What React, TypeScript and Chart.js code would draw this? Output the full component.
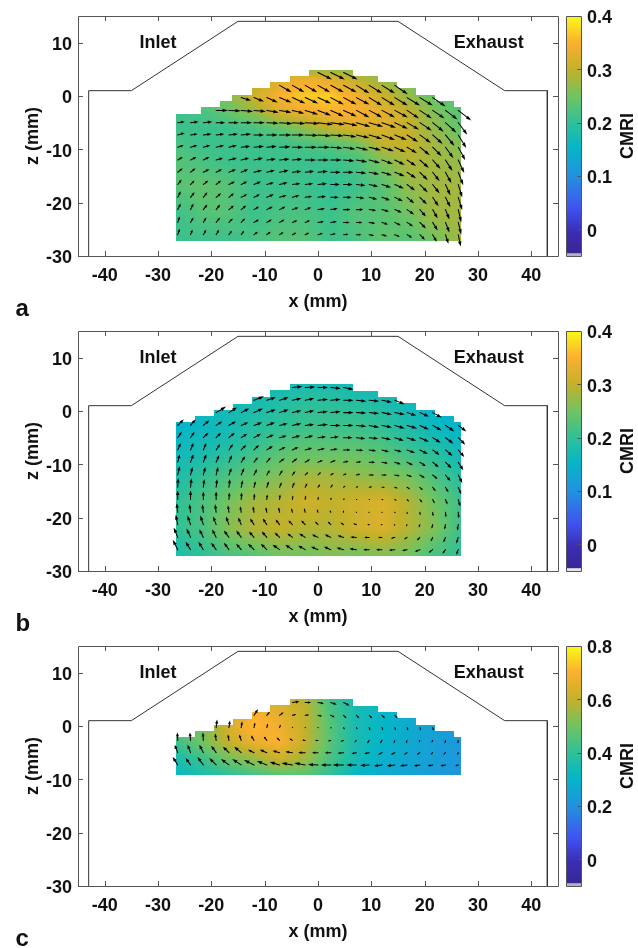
import React, { useEffect, useRef } from "react";
import { Chart, registerables } from "chart.js";

Chart.register(...registerables);

const FONT = "'Liberation Sans', Arial, sans-serif";
const INK = "#111111";
const FRAME = "#555555";

// Port outline of the cylinder head (mm)
const outlineX = [-43, -43, -35, -15, 15, 35, 43, 43];
const outlineZ = [-30, 1, 1, 14, 14, 1, 1, -30];

const xTickValues = [-40, -30, -20, -10, 0, 10, 20, 30, 40];
const zTickValues = [-30, -20, -10, 0, 10];

// Vector grid
const colX = [-26.3, -23.9, -21.5, -19.1, -16.7, -14.4, -12, -9.6, -7.2, -4.8, -2.4, 0, 2.4, 4.8, 7.2, 9.6, 12, 14.4, 16.7, 19.1, 21.5, 23.9, 26.3];
const rowZ = [-26, -23.7, -21.3, -19, -16.6, -14.3, -12, -9.6, -7.3, -5, -2.7, -0.3, 2, 4.4];

// Each row: first column index, then u,v pairs
const arrowsA = [
  [0, 2,6, 2,5, 3,5, 3,5, 3,4, 3,4, 4,3, 4,3, 4,2.5, 4,2, 4,2, 5,1.5, 5,1, 5,.5, 5,0, 5,-1, 5,-1.5, 5,-2, 5,-3, 5,-5, 4,-7, 3,-9, 2.5,-12],
  [0, 2,6, 3,5, 3,5, 4,5, 4,4, 4,4, 5,3, 5,3, 5,3, 5,2, 5,2, 6,1, 6,1, 6,0, 6,0, 6,-1, 6,-2, 6,-3, 6,-4, 6,-6, 5,-8, 4,-10, 3,-12],
  [0, 3,6, 3,6, 4,5, 4,5, 5,4, 5,4, 5,3, 6,3, 6,3, 6,2, 6,2, 7,1, 7,1, 7,0, 7,0, 7,-1, 7,-2, 7,-3, 7,-5, 6,-7, 5,-9, 4,-10, 3,-13],
  [0, 3,6, 4,5, 4,5, 5,4, 5,4, 6,3, 6,3, 7,3, 7,2, 7,2, 7,1, 8,1, 8,0, 8,0, 8,-1, 8,-2, 8,-3, 8,-4, 7,-6, 7,-7, 6,-9, 5,-10, 4,-13],
  [0, 4,5, 4,4, 5,4, 5,4, 6,3, 6,3, 7,3, 7,2, 8,2, 8,1, 8,1, 9,1, 9,0, 9,0, 9,-1, 9,-2, 9,-3, 9,-4, 8,-6, 8,-8, 7,-9, 5,-11, 4,-13],
  [0, 5,4, 5,4, 6,3, 6,3, 7,3, 7,3, 8,2, 8,2, 9,2, 9,1, 9,1, 10,1, 10,0, 10,0, 10,-1, 10,-2, 10,-3, 10,-4, 9,-6, 8,-8, 7,-9, 6,-11, 5,-13],
  [0, 5,3, 6,3, 6,3, 7,2, 8,2, 8,2, 9,2, 9,1, 10,1, 10,1, 11,0, 11,0, 11,0, 11,-1, 11,-2, 11,-3, 11,-4, 10,-5, 9,-6, 9,-8, 8,-9, 7,-11, 6,-13],
  [0, 6,2, 7,2, 7,2, 8,2, 8,2, 9,1, 10,1, 10,1, 11,.5, 11,0, 12,0, 12,0, 12,-1, 12,-2, 12,-3, 12,-3, 12,-4, 11,-5, 10,-6, 10,-8, 9,-9, 8,-11, 7,-13],
  [0, 7,2, 7,1, 8,1, 8,1, 9,1, 10,1, 10,0, 11,0, 12,0, 12,0, 13,-.5, 13,-1, 13,-1, 13,-2, 13,-3, 13,-4, 13,-5, 12,-5, 11,-7, 11,-8, 10,-9, 9,-11, 8,-13],
  [0, 7,1, 8,1, 9,1, 9,0, 10,0, 11,0, 11,0, 12,-.5, 13,-1, 13,-1, 14,-1, 15,-2, 14,-2, 14,-3, 14,-4, 14,-4, 14,-5, 13,-6, 12,-7, 12,-8, 11,-9, 11,-10, 9,-12],
  [3, 12,0, 12,-.5, 12,-1, 12,-1, 12,-2, 12,-2, 12,-3, 13,-4, 13,-5, 13,-6, 13,-6, 13,-7, 13,-7, 13,-7, 13,-7, 12,-8, 12,-8, 12,-8, 12,-9, 13,-10],
  [5, 10,-3, 10,-4, 11,-5, 12,-5, 13,-6, 13,-6, 13,-6, 13,-7, 13,-7, 13,-7, 13,-8, 13,-8, 13,-8, 13,-8, 13,-8, 13,-9],
  [8, 12,-7, 12,-7, 12,-7, 12,-7, 13,-7, 13,-7, 13,-8, 13,-8, 13,-8, 13,-9],
  [11, 14,-7, 14,-7, 14,-7],
];

const arrowsB = [
  [0, -5,10, -5,8, -5,8, -5,7, -5,7, -5,6, -6,6, -6,6, -7,5, -7,5, -7,4, -7,3, -7,3, -7,2, -7,1, -6,0, -6,0, -6,-.5, -5,-1, -5,-2, -4,-3, -3,-4, -2,-5],
  [0, -4,10, -4,9, -4,8, -4,8, -5,7, -5,7, -5,6, -5,6, -5,5, -5,4, -6,4, -6,3, -6,3, -6,2, -6,.5, -5,0, -4,0, -4,-1, -3,-2, -3,-3, -2,-4, -2,-5, -2,-6],
  [0, -2,10, -3,9, -3,9, -3,8, -3,8, -3,7, -4,6, -4,6, -4,5, -4,4, -4,4, -3,3, -3,3, -3,2, -3,1, -2,0, -1.5,-.3, -1,-1, -1,-2, -1,-3, -1,-4, -1,-5, -1,-6],
  [0, -1,9, -1,8, -1,8, -1,8, -1,7, -1,6, -1,6, -1,5, -1,5, -1,4, -1,4, -1,3, -1,2, -.5,2, -.5,.5, .2,0, .3,-.2, .5,-1, .5,-2, .5,-3, .5,-4, .5,-5, .5,-6],
  [0, 0,9, 0,9, 0,8, 0,8, .5,7, .5,7, .5,6, .5,5, .5,5, .5,4, .5,4, .5,3, .5,2, 1,1, 1,.5, 1,0, 1.5,-.3, 2,-1, 2,-2, 2.5,-3, 2,-4, 2,-5, 2,-7],
  [0, .5,9, 1,9, 1,8, 1,8, 1,8, 1.5,7, 1.5,6, 2,6, 2,5, 2,5, 2,4, 2,3, 2,3, 2,1.5, 2,1, 3,.5, 3,0, 3,-1, 3,-2, 3,-3, 3,-4, 3,-5, 3,-7],
  [0, 2,9, 2,8, 2,8, 2,8, 2.5,7, 3,7, 3,6, 3,5, 3,5, 3,4, 3,3, 3,3, 3,2, 3,1.5, 4,1, 5,0, 5,0, 5,-1, 5,-2, 5,-3, 5,-4, 5,-6, 4,-8],
  [0, 2,8, 3,8, 3,8, 3,7, 3,7, 4,6, 4,5, 4,5, 5,4, 5,4, 5,3, 5,2, 5,2, 5,1, 5,.5, 6,0, 6,-1, 6,-2, 6,-3, 6,-4, 6,-5, 6,-6, 5,-8],
  [0, 3,7, 3,7, 3,7, 4,6, 4,6, 5,5, 5,5, 6,4, 6,3, 6,3, 7,2, 7,1.5, 7,1, 7,0, 7,-.5, 7,-1, 7,-2, 7,-2, 8,-3, 8,-4, 7,-5, 7,-6, 6,-7],
  [0, 4,6, 4,6, 5,5, 5,5, 6,5, 6,4, 7,4, 7,3, 7,2, 8,2, 8,2, 8,1, 8,1, 9,0, 9,-1, 9,-1, 9,-2, 9,-3, 9,-3, 9,-4, 8,-5, 8,-6, 7,-7],
  [0, 6,6, 5,6, 6,5, 6,4, 7,4, 7,3, 8,3, 8,3, 8,2, 9,2, 9,1, 10,1, 10,0, 10,0, 10,-1, 10,-2, 10,-2, 10,-3, 10,-3, 9,-4, 9,-5, 9,-6, 8,-6],
  [3, 10,6, 8,5, 8,4, 9,4, 9,3, 9,3, 9,2, 9,2, 10,1, 10,1, 10,0, 10,-.5, 10,-1, 10,-2, 10,-2, 9,-3, 9,-4, 9,-5],
  [6, 10,4, 9,3, 9,3, 9,2, 9,2, 10,1, 10,1, 10,0, 10,-1, 10,-1, 10,-2, 10,-4],
  [9, 10,1, 10,.5, 10,0, 10,-1, 10,-2],
];

// Panel c only has the upper six rows of the grid
const arrowsC = [
  [0, -5,8, -5,7, -6,8, -7,7, -8,6, -9,6, -10,5, -10,4, -10,3, -11,2, -11,2, -10,.5, -10,0, -11,0, -10,0, -9,-.5, -8,-1, -8,-1, -7,-1, -6,-1, -5,-1, -5,-1, -3,-1],
  [0, -3,8, -3,8, -4,8, -5,7, -6,6, -7,6, -6,3, -7,3, -7,2, -7,1, -7,0, -6,0, -6,0, -6,-.5, -5,-1, -5,-1, -4,-2, -4,-2, -3,-2, -3,-2, -2,-2, -2,-2, -1,-2],
  [0, -.5,8, -.7,8, -.5,8, -1,7, -1,6, -2,6, -3,5, -3,4, -3,3, -3,2, -3,.5, -3,0, -3,-.5, -3,-1, -2,-2, -2,-3, -2,-3, -1,-3, -1,-3, -1,-2, -1,-2, -.5,-3, -.5,-3],
  [3, 1,8, 1,7, 1,6, 1,5, 1,4, 1,3, .5,1, .3,.3, .3,-.3, .5,-1, 1,-2, 1,-2, 1,-3, 1,-3, 1,-3, 1,-3, 1,-3, 1,-3],
  [6, 4,6, 3,3.5, 4,3, 4,1, 4,.5, 4,-1, 4,-2, 3,-3, 3,-3, 3,-3, 3,-3, 3,-3],
  [9, 7,1, 6,0, 6,-1, 6,-2, 6,-3],
];

// CMRI field, sampled on a coarse grid
const heatX = [-26.7, -21.8, -17, -12.1, -7.2, -2.4, 2.4, 7.2, 12.1, 17, 21.8, 26.7];
const heatZAB = [5.2, 3, 0, -3, -6, -9, -12, -17, -22, -27];
const heatZC = [5.2, 3, 0, -3, -6, -9.1];

const cmriA = [
  [.24,.24,.25,.27,.29,.27,.26,.26,.26,.26,.24,.22],
  [.24,.24,.25,.28,.32,.34,.33,.30,.27,.26,.24,.22],
  [.23,.24,.26,.31,.35,.37,.37,.34,.31,.27,.24,.22],
  [.21,.22,.24,.27,.32,.34,.35,.35,.33,.30,.26,.23],
  [.21,.21,.21,.22,.24,.27,.30,.32,.32,.30,.27,.24],
  [.22,.21,.21,.21,.21,.22,.23,.25,.30,.30,.28,.26],
  [.23,.22,.21,.21,.21,.21,.21,.22,.26,.29,.28,.27],
  [.23,.24,.23,.21,.21,.21,.20,.21,.23,.27,.28,.28],
  [.21,.23,.23,.21,.22,.22,.21,.23,.23,.25,.28,.28],
  [.21,.21,.21,.22,.23,.23,.21,.22,.24,.23,.25,.28],
];
const cmriB = [
  [.16,.16,.16,.16,.17,.17,.17,.17,.16,.16,.15,.14],
  [.16,.16,.16,.17,.18,.19,.19,.18,.17,.16,.15,.14],
  [.15,.16,.17,.18,.19,.20,.20,.20,.19,.17,.15,.14],
  [.15,.16,.17,.19,.20,.21,.21,.21,.20,.18,.16,.15],
  [.16,.17,.18,.20,.22,.23,.23,.23,.22,.20,.18,.16],
  [.17,.18,.20,.22,.24,.25,.25,.25,.24,.22,.20,.17],
  [.18,.20,.22,.24,.26,.28,.28,.27,.26,.25,.22,.19],
  [.20,.22,.25,.28,.29,.31,.30,.31,.32,.29,.25,.21],
  [.20,.22,.26,.29,.30,.29,.29,.31,.32,.29,.26,.21],
  [.18,.20,.22,.23,.25,.25,.26,.25,.26,.25,.22,.20],
];
const cmriC = [
  [.45,.50,.58,.66,.62,.58,.42,.35,.30,.28,.25,.23],
  [.45,.50,.58,.69,.65,.60,.44,.35,.31,.28,.25,.23],
  [.44,.50,.62,.72,.68,.60,.46,.35,.31,.27,.25,.23],
  [.42,.50,.60,.67,.70,.60,.46,.35,.30,.27,.24,.22],
  [.36,.42,.50,.55,.62,.56,.44,.34,.29,.26,.24,.22],
  [.32,.36,.40,.44,.47,.47,.40,.31,.27,.25,.23,.21],
];

// Staircase upper edge of the measured region
const stepEdgesA = [-26.7, -21.9, -18.4, -16.1, -12.4, -9, -5.3, -1.7, 6.6, 11.25, 14.8, 18.4, 22, 25.5, 26.9];
const stepTopsA = [-3.3, -2.05, -1, 0.25, 1.5, 2.65, 3.8, 4.95, 3.8, 2.65, 1.5, 0.25, -1, -2.05];
const stepEdgesBC = [-26.7, -23, -19.5, -16, -12.4, -9, -5.3, 6.6, 11.25, 14.8, 18.4, 22, 25.5, 26.9];
const stepTopsBC = [-2.1, -1, 0.15, 1.3, 2.6, 3.9, 5, 3.8, 2.65, 1.5, 0.25, -1, -2.05];

// Colour map
const mapStops = [0, .1, .2, .33, .45, .55, .66, .775, .89, 1];
const mapColors = ["#38268f", "#3b2db4", "#4053f0", "#2390e0", "#05b6c8", "#2cc09a", "#6cc464", "#c2b12b", "#fbb02f", "#f9fb15"];

const inletLabel = { text: "Inlet", x: -30, z: 10 };
const exhaustLabel = { text: "Exhaust", x: 32, z: 10 };

type Panel = {
  letter: string; top: number; arrows: number[][]; rowOffset: number;
  heatZ: number[]; cmri: number[][]; edges: number[]; tops: number[]; bottom: number;
  cbMin: number; cbMax: number; cbStep: number; band: string;
};

const panels: Panel[] = [
  { letter: "a", top: 0, arrows: arrowsA, rowOffset: 0, heatZ: heatZAB, cmri: cmriA, edges: stepEdgesA, tops: stepTopsA, bottom: -27.1, cbMin: -0.05, cbMax: 0.4, cbStep: 0.1, band: "#b4aec6" },
  { letter: "b", top: 315, arrows: arrowsB, rowOffset: 0, heatZ: heatZAB, cmri: cmriB, edges: stepEdgesBC, tops: stepTopsBC, bottom: -27.1, cbMin: -0.05, cbMax: 0.4, cbStep: 0.1, band: "#e4e4ea" },
  { letter: "c", top: 630, arrows: arrowsC, rowOffset: 8, heatZ: heatZC, cmri: cmriC, edges: stepEdgesBC, tops: stepTopsBC, bottom: -9.1, cbMin: -0.1, cbMax: 0.8, cbStep: 0.2, band: "#b4aec6" },
];

const CANVAS_H = 318;
const AXIS_BOTTOM = 256;
const PX_PER_MM = 480 / 90;
const LABEL_DROP = 2.5;

const hexRgb = (h: string) => [parseInt(h.slice(1, 3), 16), parseInt(h.slice(3, 5), 16), parseInt(h.slice(5, 7), 16)];
const mapRgb = mapColors.map(hexRgb);

function colorAt(f: number) {
  const t = Math.max(0, Math.min(1, f));
  let k = 0;
  while (k < mapStops.length - 2 && t > mapStops[k + 1]) k++;
  const w = (t - mapStops[k]) / (mapStops[k + 1] - mapStops[k]);
  return [0, 1, 2].map((c) => mapRgb[k][c] + (mapRgb[k + 1][c] - mapRgb[k][c]) * w);
}

function sampleField(p: Panel, x: number, z: number) {
  const xs = heatX;
  const zs = p.heatZ;
  let i = 0;
  while (i < xs.length - 2 && x > xs[i + 1]) i++;
  let j = 0;
  while (j < zs.length - 2 && z < zs[j + 1]) j++;
  const tx = Math.max(0, Math.min(1, (x - xs[i]) / (xs[i + 1] - xs[i])));
  const tz = Math.max(0, Math.min(1, (z - zs[j]) / (zs[j + 1] - zs[j])));
  const g = p.cmri;
  return (g[j][i] * (1 - tx) + g[j][i + 1] * tx) * (1 - tz) + (g[j + 1][i] * (1 - tx) + g[j + 1][i + 1] * tx) * tz;
}

function topAt(p: Panel, x: number) {
  if (x < p.edges[0] || x > p.edges[p.edges.length - 1]) return null;
  for (let k = 0; k < p.tops.length; k++) if (x <= p.edges[k + 1]) return p.tops[k];
  return null;
}

function drawHeat(chart: any, p: Panel) {
  const { ctx, scales, chartArea } = chart;
  const w = Math.round(chartArea.right - chartArea.left);
  const h = Math.round(chartArea.bottom - chartArea.top);
  const off = document.createElement("canvas");
  off.width = w;
  off.height = h;
  const oc = off.getContext("2d") as CanvasRenderingContext2D;
  const img = oc.createImageData(w, h);
  for (let py = 0; py < h; py++) {
    const z = scales.y.getValueForPixel(chartArea.top + py + 0.5);
    for (let px = 0; px < w; px++) {
      const x = scales.x.getValueForPixel(chartArea.left + px + 0.5);
      const top = topAt(p, x);
      if (top === null || z > top || z < p.bottom) continue;
      const v = sampleField(p, x, z);
      const c = colorAt((v - p.cbMin) / (p.cbMax - p.cbMin));
      const o = (py * w + px) * 4;
      img.data[o] = c[0];
      img.data[o + 1] = c[1];
      img.data[o + 2] = c[2];
      img.data[o + 3] = 255;
    }
  }
  oc.putImageData(img, 0, 0);
  ctx.save();
  ctx.filter = "blur(0.7px)";
  ctx.drawImage(off, chartArea.left, chartArea.top);
  ctx.restore();
}

function drawArrows(chart: any, p: Panel) {
  const { ctx, scales } = chart;
  const k = 1 / PX_PER_MM;
  ctx.save();
  ctx.strokeStyle = "#000";
  ctx.fillStyle = "#000";
  ctx.lineWidth = 1.05;
  ctx.lineCap = "round";
  p.arrows.forEach((row, r) => {
    const z = rowZ[r + p.rowOffset];
    for (let n = 0; n * 2 + 2 < row.length; n++) {
      const x = colX[row[0] + n];
      const u = row[1 + n * 2];
      const v = row[2 + n * 2];
      const x0 = scales.x.getPixelForValue(x);
      const y0 = scales.y.getPixelForValue(z);
      const x1 = scales.x.getPixelForValue(x + u * k);
      const y1 = scales.y.getPixelForValue(z + v * k);
      const dx = x1 - x0;
      const dy = y1 - y0;
      const len = Math.hypot(dx, dy) || 0.001;
      const ux = dx / len;
      const uy = dy / len;
      const hl = Math.min(5.5, len * 0.45 + 0.4);
      const hw = Math.min(1.7, hl * 0.33 + 0.25);
      const bx = x1 - ux * hl;
      const by = y1 - uy * hl;
      ctx.beginPath();
      ctx.moveTo(x0, y0);
      ctx.lineTo(bx, by);
      ctx.stroke();
      ctx.beginPath();
      ctx.moveTo(x1, y1);
      ctx.lineTo(bx - uy * hw, by + ux * hw);
      ctx.lineTo(bx + uy * hw, by - ux * hw);
      ctx.closePath();
      ctx.fill();
    }
  });
  ctx.restore();
}

function drawFrame(chart: any) {
  const { ctx, scales, chartArea: a } = chart;
  ctx.save();
  ctx.strokeStyle = FRAME;
  ctx.lineWidth = 1;
  ctx.beginPath();
  ctx.rect(a.left + 0.5, a.top + 0.5, a.right - a.left, a.bottom - a.top);
  scales.x.ticks.forEach((t: any) => {
    const px = Math.round(scales.x.getPixelForValue(t.value)) + 0.5;
    ctx.moveTo(px, a.bottom);
    ctx.lineTo(px, a.bottom - 5);
    ctx.moveTo(px, a.top);
    ctx.lineTo(px, a.top + 5);
  });
  scales.y.ticks.forEach((t: any) => {
    const py = Math.round(scales.y.getPixelForValue(t.value)) + 0.5;
    ctx.moveTo(a.left, py);
    ctx.lineTo(a.left + 5, py);
    ctx.moveTo(a.right, py);
    ctx.lineTo(a.right - 5, py);
  });
  ctx.stroke();
  ctx.restore();
}

// The reference prints its vertical-axis numbers a little below their ticks
function dropLabels(scale: any, chart: any) {
  scale.getLabelItems(chart.chartArea).forEach((item: any) => {
    item.options.translation[1] += LABEL_DROP;
  });
}

function MainChart({ panel }: { panel: Panel }) {
  const ref = useRef<HTMLCanvasElement>(null);
  useEffect(() => {
    const plugin = {
      id: "panelArt",
      beforeDraw(c: any) { dropLabels(c.scales.y, c); },
      beforeDatasetsDraw(c: any) { drawHeat(c, panel); },
      afterDatasetsDraw(c: any) {
        drawArrows(c, panel);
        drawFrame(c);
        const { ctx, scales } = c;
        ctx.save();
        ctx.fillStyle = INK;
        ctx.font = `bold 18px ${FONT}`;
        ctx.textAlign = "center";
        ctx.textBaseline = "middle";
        [inletLabel, exhaustLabel].forEach((l) => {
          ctx.fillText(l.text, scales.x.getPixelForValue(l.x), scales.y.getPixelForValue(l.z));
        });
        ctx.textAlign = "left";
        ctx.textBaseline = "alphabetic";
        ctx.font = `bold 24px ${FONT}`;
        ctx.fillText(panel.letter, 15.5, 316);
        ctx.restore();
      },
    };
    const chart = new Chart(ref.current as HTMLCanvasElement, {
      type: "scatter",
      data: {
        datasets: [{
          label: "Port outline",
          data: outlineX.map((x, i) => ({ x, y: outlineZ[i] })),
          showLine: true,
          borderColor: "#333333",
          borderWidth: 1,
          pointRadius: 0,
          tension: 0,
        }],
      },
      options: {
        animation: false,
        responsive: false,
        devicePixelRatio: 1,
        layout: { autoPadding: false, padding: { top: 16, right: 2, left: 0, bottom: 0 } },
        plugins: { legend: { display: false }, tooltip: { enabled: false } },
        scales: {
          x: {
            type: "linear", min: -45, max: 45,
            grid: { display: false, drawTicks: false },
            border: { display: false },
            ticks: { autoSkip: false, maxRotation: 0, padding: 9, color: INK, font: { family: FONT, size: 18, weight: "bold" } },
            title: { display: true, text: "x (mm)", color: INK, font: { family: FONT, size: 18, weight: "bold" }, padding: { top: 0, bottom: 5 } },
            afterBuildTicks: (s: any) => { s.ticks = xTickValues.map((value) => ({ value })); },
            afterFit: (s: any) => { s.height = CANVAS_H - AXIS_BOTTOM; s.paddingLeft = 0; s.paddingRight = 0; },
          },
          y: {
            type: "linear", min: -30, max: 15,
            grid: { display: false, drawTicks: false },
            border: { display: false },
            ticks: { autoSkip: false, padding: 6, color: INK, font: { family: FONT, size: 18, weight: "bold" } },
            title: { display: true, text: "z (mm)", color: INK, font: { family: FONT, size: 18, weight: "bold" }, padding: { top: 22, bottom: 0 } },
            afterBuildTicks: (s: any) => { s.ticks = zTickValues.map((value) => ({ value })); },
            afterFit: (s: any) => { s.width = 78; s.paddingTop = 0; s.paddingBottom = 0; },
          },
        },
      },
      plugins: [plugin],
    } as any);
    return () => chart.destroy();
  }, [panel]);
  return <canvas ref={ref} width={560} height={CANVAS_H} style={{ position: "absolute", left: 0, top: panel.top, display: "block" }} />;
}

function ColorBar({ panel }: { panel: Panel }) {
  const ref = useRef<HTMLCanvasElement>(null);
  useEffect(() => {
    const bandH = ((panel.cbMax - panel.cbMin) * 2.5) / 240;
    const plugin = {
      id: "barFrame",
      beforeDraw(c: any) { dropLabels(c.scales.y, c); },
      afterDatasetsDraw(c: any) {
        const { ctx, scales, chartArea: a } = c;
        ctx.save();
        ctx.strokeStyle = FRAME;
        ctx.lineWidth = 1;
        ctx.beginPath();
        ctx.rect(a.left + 0.5, a.top + 0.5, a.right - a.left, a.bottom - a.top);
        scales.y.ticks.forEach((t: any) => {
          const py = Math.round(scales.y.getPixelForValue(t.value)) + 0.5;
          ctx.moveTo(a.right, py);
          ctx.lineTo(a.right - 3.5, py);
        });
        ctx.stroke();
        ctx.translate(68, 136);
        ctx.rotate(-Math.PI / 2);
        ctx.fillStyle = INK;
        ctx.font = `bold 18px ${FONT}`;
        ctx.textAlign = "center";
        ctx.textBaseline = "middle";
        ctx.fillText("CMRI", 0, 0);
        ctx.restore();
      },
    };
    const gradient = (ctx: any) => {
      const a = ctx.chart.chartArea;
      if (!a) return mapColors[0];
      const g = ctx.chart.ctx.createLinearGradient(0, a.bottom, 0, a.top);
      mapStops.forEach((s, i) => g.addColorStop(s, mapColors[i]));
      return g;
    };
    const chart = new Chart(ref.current as HTMLCanvasElement, {
      type: "bar",
      data: {
        labels: ["CMRI"],
        datasets: [
          { label: "CMRI", data: [[panel.cbMin, panel.cbMax]], backgroundColor: gradient, borderWidth: 0, barPercentage: 1, categoryPercentage: 1, grouped: false, order: 2 },
          { label: "Out of range", data: [[panel.cbMin, panel.cbMin + bandH]], backgroundColor: panel.band, borderWidth: 0, barPercentage: 1, categoryPercentage: 1, grouped: false, order: 1 },
        ],
      },
      options: {
        animation: false,
        responsive: false,
        devicePixelRatio: 1,
        layout: { autoPadding: false, padding: { top: 16, left: 6, right: 0, bottom: CANVAS_H - AXIS_BOTTOM } },
        plugins: { legend: { display: false }, tooltip: { enabled: false } },
        scales: {
          x: { display: false },
          y: {
            type: "linear", position: "right", min: panel.cbMin, max: panel.cbMax,
            grid: { display: false, drawTicks: false },
            border: { display: false },
            ticks: {
              stepSize: panel.cbStep, includeBounds: false, autoSkip: false, padding: 6, color: INK,
              font: { family: FONT, size: 18, weight: "bold" },
              callback: (v: any) => (Math.abs(Number(v)) < 1e-9 ? "0" : Number(v).toFixed(1)),
            },
            afterFit: (s: any) => { s.width = 57; s.paddingTop = 0; s.paddingBottom = 0; },
          },
        },
      },
      plugins: [plugin],
    } as any);
    return () => chart.destroy();
  }, [panel]);
  return <canvas ref={ref} width={78} height={CANVAS_H} style={{ position: "absolute", left: 560, top: panel.top, display: "block" }} />;
}

export default function App() {
  return (
    <div style={{ position: "absolute", left: 0, top: 0, width: 638, height: 948, overflow: "hidden", background: "#fff" }}>
      {panels.map((p) => (
        <React.Fragment key={p.letter}>
          <MainChart panel={p} />
          <ColorBar panel={p} />
        </React.Fragment>
      ))}
    </div>
  );
}
